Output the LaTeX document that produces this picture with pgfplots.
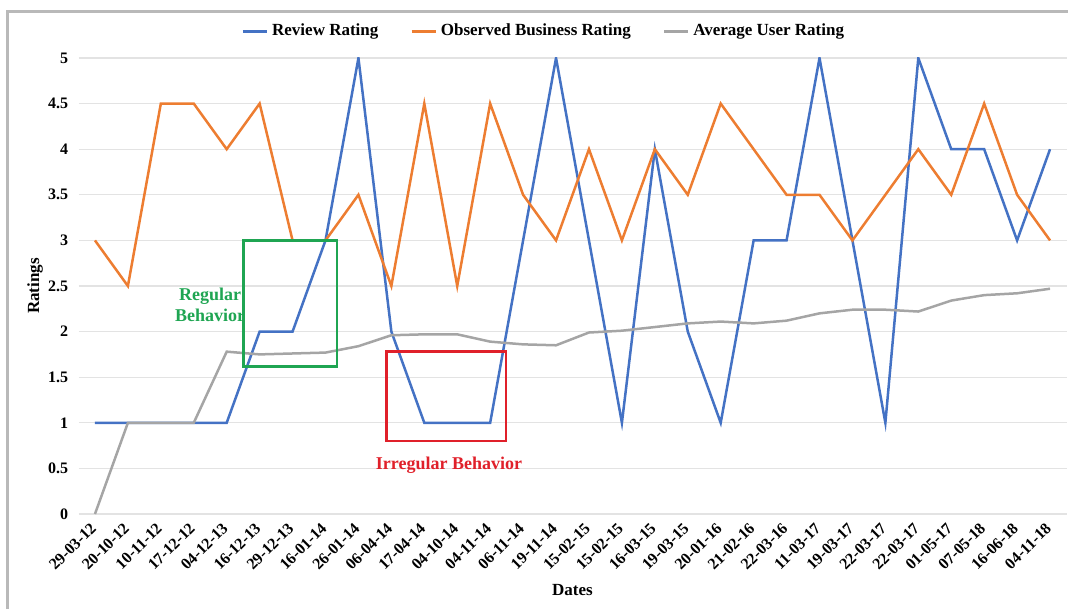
\documentclass[border=0pt]{standalone}
\usepackage{fontspec}
\setmainfont{Liberation Serif}
\usepackage{pgfplots}
\pgfplotsset{compat=1.18}
\usepackage{pgfplotstable}

\definecolor{revblue}{HTML}{4472C4}
\definecolor{obsorange}{HTML}{ED7D31}
\definecolor{avggray}{HTML}{A5A5A5}
\definecolor{reggreen}{HTML}{1FA552}
\definecolor{irrred}{HTML}{E0202A}

\pgfplotstableread{
idx rev obs avg
0  1 3   0
1  1 2.5 1
2  1 4.5 1
3  1 4.5 1
4  1 4   1.78
5  2 4.5 1.75
6  2 3   1.76
7  3 3   1.77
8  5 3.5 1.84
9  2 2.5 1.96
10 1 4.5 1.97
11 1 2.5 1.97
12 1 4.5 1.89
13 3 3.5 1.86
14 5 3   1.85
15 3 4   1.99
16 1 3   2.01
17 4 4   2.05
18 2 3.5 2.09
19 1 4.5 2.11
20 3 4   2.09
21 3 3.5 2.12
22 5 3.5 2.20
23 3 3   2.24
24 1 3.5 2.24
25 5 4   2.22
26 4 3.5 2.34
27 4 4.5 2.40
28 3 3.5 2.42
29 4 3   2.47
}\ratings

\begin{document}
\begin{tikzpicture}
\useasboundingbox (-39.25pt,-47.5pt) rectangle (494.75pt,257pt);
\draw[gray!55, line width=1.5pt] (-35.25pt,-47.5pt) -- (-35.25pt,251pt) -- (494.75pt,251pt);
\begin{axis}[
  at={(0,0)}, anchor=south west,
  scale only axis, width=494pt, height=228pt,
  xmin=-0.5, xmax=29.5, ymin=0, ymax=5,
  xtick={0,...,29},
  xticklabels={29-03-12,20-10-12,10-11-12,17-12-12,04-12-13,16-12-13,29-12-13,16-01-14,26-01-14,06-04-14,17-04-14,04-10-14,04-11-14,06-11-14,19-11-14,15-02-15,15-02-15,16-03-15,19-03-15,20-01-16,21-02-16,22-03-16,11-03-17,19-03-17,22-03-17,22-03-17,01-05-17,07-05-18,16-06-18,04-11-18},
  ytick={0,0.5,1,1.5,2,2.5,3,3.5,4,4.5,5},
  yticklabels={0,0.5,1,1.5,2,2.5,3,3.5,4,4.5,5},
  ymajorgrids,
  grid style={draw=gray!22, line width=0.6pt},
  axis lines*=left,
  axis line style={draw=none},
  major tick length=0pt,
  tick label style={font=\bfseries\fontsize{8}{9}\selectfont},
  /pgf/number format/assume math mode=true,
  xticklabel shift=5pt,
  xticklabel style={rotate=45, anchor=east, inner sep=1pt},
  yticklabel style={inner sep=1pt, xshift=-4pt},
  xlabel={Dates}, ylabel={Ratings},
  label style={font=\bfseries\fontsize{8.5}{10}\selectfont},
  xlabel style={at={(axis description cs:0.5,-0.167)}, anchor=center},
  ylabel style={at={(axis description cs:-0.044,0.5)}, anchor=center},
  legend style={at={(0.472,1.058)}, anchor=center, draw=none, fill=none,
    font=\bfseries\fontsize{8.5}{10}\selectfont,
    /tikz/every even column/.append style={column sep=14pt}},
  legend columns=3,
  legend image code/.code={\draw[#1] (0pt,0pt) -- (12pt,0pt);},
]
\addplot[revblue, line width=1.25pt] table[x=idx, y=rev] {\ratings};
\addlegendentry{Review Rating}
\addplot[obsorange, line width=1.25pt] table[x=idx, y=obs] {\ratings};
\addlegendentry{Observed Business Rating}
\addplot[avggray, line width=1.25pt] table[x=idx, y=avg] {\ratings};
\addlegendentry{Average User Rating}

\draw[reggreen, line width=1.4pt] (axis cs:4.5,3) rectangle (axis cs:7.35,1.62);
\draw[irrred, line width=1.4pt] (axis cs:8.84,1.78) rectangle (axis cs:12.48,0.8);
\node[reggreen, font=\bfseries\fontsize{9}{10.5}\selectfont, align=center] at (axis cs:3.5,2.29) {Regular\\Behavior};
\node[irrred, font=\bfseries\fontsize{9}{10.5}\selectfont] at (axis cs:10.75,0.54) {Irregular Behavior};
\end{axis}
\end{tikzpicture}
\end{document}
